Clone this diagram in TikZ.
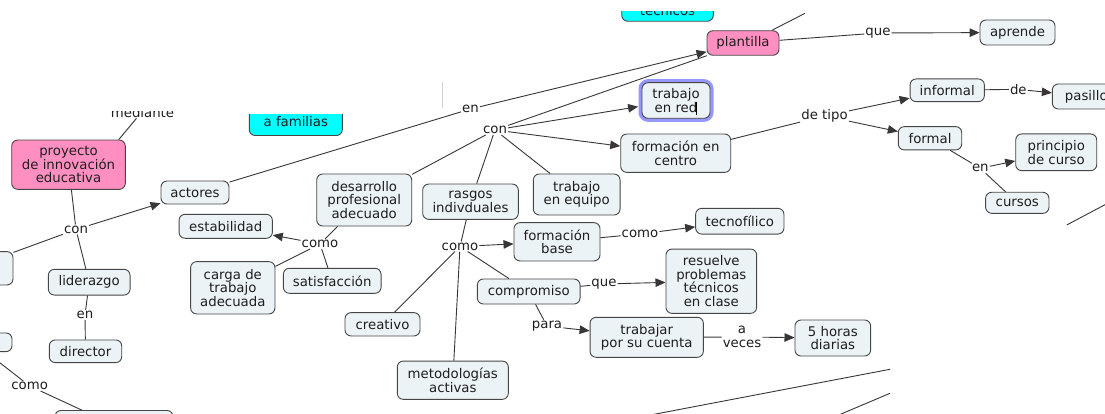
\documentclass[tikz,border=0pt]{standalone}
\usepackage{fontspec}
\newfontfamily\cmf{DejaVu Sans}
\usetikzlibrary{arrows.meta,calc}
\definecolor{cfill}{RGB}{236,243,246}
\definecolor{cbord}{RGB}{70,70,70}
\definecolor{cpink}{RGB}{255,143,192}
\definecolor{ccyan}{RGB}{0,255,255}
\definecolor{cline}{RGB}{55,55,55}
\definecolor{ctext}{RGB}{30,30,30}
\definecolor{cglow}{RGB}{150,150,255}
\tikzset{
  cfont/.style={font=\cmf\fontsize{13.3}{13.6}\selectfont, text=ctext},
  concept/.style={cfont, draw=cbord, fill=cfill, rounded corners=6pt, line width=0.9pt, align=center, inner sep=0pt},
  pinkc/.style={concept, fill=cpink},
  cyanc/.style={concept, fill=ccyan},
  lp/.style={cfont, inner sep=1pt, align=center},
  conn/.style={draw=cline, line width=0.9pt},
  arr/.style={conn, -{Triangle[length=10pt,width=8.5pt]}},
}
\begin{document}
\begin{tikzpicture}[x=1pt,y=-1pt]
\fill[white] (0,0) rectangle (1105,414);
\useasboundingbox (0,0) rectangle (1105,414);

% clipped partial elements
\begin{scope}
  \clip (600,12) rectangle (730,30);
  \node[cyanc, anchor=south, minimum width=91.6pt, text height=27pt, text depth=3pt, inner ysep=3pt] (tec) at (667.5,21.7) {técnicos};
\end{scope}
\begin{scope}
  \clip (240,114.8) rectangle (350,140);
  \node[cyanc, anchor=south, minimum width=93pt, text height=22.1pt, text depth=3.5pt, inner ysep=5.2pt] (fam) at (295.8,136) {a familias};
\end{scope}
\begin{scope}
  \clip (100,111.2) rectangle (200,125);
  \node[lp, anchor=base] (med) at (142.5,117.3) {mediante};
\end{scope}

% concepts
\node[pinkc, minimum width=72pt, minimum height=24.5pt] (plant) at (743,43) {plantilla};
\node[concept, minimum width=75pt, minimum height=25pt] (apr) at (1017.5,32.5) {aprende};
\node[concept, minimum width=68pt, minimum height=35.6pt, preaction={draw=cglow, line width=7pt, rounded corners=6pt}] (red) at (676,100.5) {trabajo\\en red};
\node[concept, minimum width=110pt, minimum height=38.3pt] (fcen) at (675.7,153.2) {formación en\\centro};
\node[concept, minimum width=74.3pt, minimum height=22.7pt] (inf) at (947.2,90.3) {informal};
\node[concept, minimum width=68pt, minimum height=25pt] (pas) at (1086.3,96.5) {pasillo};
\node[concept, minimum width=63.4pt, minimum height=23.3pt] (form) at (930,138.3) {formal};
\node[concept, minimum width=81pt, minimum height=36.7pt] (prin) at (1056.2,152.3) {principio\\de curso};
\node[concept, minimum width=63.3pt, minimum height=21pt] (cur) at (1017.3,202.8) {cursos};
\node[pinkc, minimum width=113.6pt, minimum height=49.3pt] (proy) at (68.5,164.7) {proyecto\\de innovación\\educativa};
\node[concept, minimum width=68pt, minimum height=23pt] (act) at (195,192.5) {actores};
\node[concept, minimum width=95pt, minimum height=52pt] (des) at (364.2,200) {desarrollo\\profesional\\adecuado};
\node[concept, minimum width=95.6pt, minimum height=35.3pt] (ras) at (470.5,201.7) {rasgos\\indivduales};
\node[concept, minimum width=86.7pt, minimum height=41pt] (teq) at (576.7,194.5) {trabajo\\en equipo};
\node[concept, minimum width=93.3pt, minimum height=24pt] (est) at (225.7,226.3) {estabilidad};
\node[concept, minimum width=84.3pt, minimum height=52.3pt] (carga) at (232.8,287.8) {carga de\\trabajo\\adecuada};
\node[concept, minimum width=97.7pt, minimum height=25pt] (sat) at (332.2,280.8) {satisfacción};
\node[concept, minimum width=81.7pt, minimum height=25.7pt] (lid) at (89.2,282.2) {liderazgo};
\node[concept, minimum width=72.4pt, minimum height=22.7pt] (dir) at (85.5,351.3) {director};
\node[concept, minimum width=118pt, minimum height=29pt] (bl) at (114,425) {};
\node[concept, minimum width=86pt, minimum height=33.3pt] (lpa) at (-30,268.3) {};
\node[concept, minimum width=84pt, minimum height=18.7pt] (lpb) at (-30,342.3) {};
\node[concept, minimum width=75pt, minimum height=23.3pt] (cre) at (382.5,324.3) {creativo};
\node[concept, minimum width=111pt, minimum height=38.3pt] (met) at (452.8,380.2) {metodologías\\activas};
\node[concept, minimum width=86pt, minimum height=38.3pt] (fbase) at (557,241.8) {formación\\base};
\node[concept, minimum width=102.7pt, minimum height=25pt] (comp) at (528.7,291.5) {compromiso};
\node[concept, minimum width=88.3pt, minimum height=25.7pt] (tecno) at (739.8,221.2) {tecnofílico};
\node[concept, minimum width=90.7pt, minimum height=64.3pt] (res) at (711.3,281.2) {resuelve\\problemas\\técnicos\\en clase};
\node[concept, minimum width=113.3pt, minimum height=40pt] (trab) at (646.7,337.3) {trabajar\\por su cuenta};
\node[concept, minimum width=75.7pt, minimum height=36pt] (horas) at (832.8,338) {5 horas\\diarias};

% text cursor and canvas mark
\draw[black, line width=0.6pt] ($(red.center)+(20.7,1.2)$) -- ++(0,13.3);
\draw[gray!35, line width=0.6pt] (442.7,81.7) -- (442.7,108.3);

% linking phrases
\node[lp] (lque1) at (878,33) {que};
\node[lp] (len1) at (470.5,109) {en};
\node[lp] (lcon1) at (495,130) {con};
\node[lp] (ltipo) at (824.5,116) {de tipo};
\node[lp] (lde) at (1018.3,89.3) {de};
\node[lp] (len2) at (980.3,168.3) {en};
\node[lp] (lcomo1) at (320,244) {como};
\node[lp] (lcon2) at (76,229.5) {con};
\node[lp] (len3) at (85,315) {en};
\node[lp] (lcomo2) at (29.7,386) {como};
\node[lp] (lcomo3) at (460,246.5) {como};
\node[lp] (lcomo4) at (640,234) {como};
\node[lp] (lque2) at (604,284) {que};
\node[lp] (lpara) at (547,326) {para};
\node[lp] (lav) at (742,337) {a\\veces};

% free ends
\coordinate (topfree) at (805,13.3);
\coordinate (lfree) at (-5,359);
\coordinate (rf1) at (1066.7,225);
\coordinate (rf2) at (1112,201);
\coordinate (bf1) at (890,369.3);
\coordinate (bf2) at (640,417);
\coordinate (bf3) at (890,393.3);
\coordinate (bf4) at (834,417);

% connectors
\draw[conn] (plant) -- (lque1);
\draw[arr] (lque1) -- (apr);
\draw[conn] (act) -- (len1);
\draw[arr] (len1) -- (plant);
\draw[conn] (plant) -- (lcon1);
\draw[arr, shorten >=3.5pt] (lcon1) -- (red);
\draw[arr] (lcon1) -- (fcen);
\draw[conn] (lcon1) -- (des);
\draw[conn] (lcon1) -- (ras);
\draw[conn] (lcon1) -- (teq);
\draw[conn] (fcen) -- (ltipo);
\draw[arr] (ltipo) -- (inf);
\draw[arr] (ltipo) -- (form);
\draw[conn] (inf) -- (lde);
\draw[arr] (lde) -- (pas);
\draw[conn] (form) -- (len2);
\draw[arr] (len2) -- (prin);
\draw[conn] (len2) -- (cur);
\draw[conn] (proy) -- (lcon2);
\draw[arr] (lcon2) -- (act);
\draw[conn] (lcon2) -- (lid);
\draw[conn] (lcon2) -- (lpa);
\draw[conn] (lid) -- (len3);
\draw[conn] (len3) -- (dir);
\draw[conn] (des) -- (lcomo1);
\draw[arr] (lcomo1) -- (est);
\draw[conn] (lcomo1) -- (carga);
\draw[conn] (lcomo1) -- (sat);
\draw[conn] (ras) -- (lcomo3);
\draw[arr] (lcomo3) -- (fbase);
\draw[conn] (lcomo3) -- (comp);
\draw[conn] (lcomo3) -- (cre);
\draw[conn] (lcomo3) -- (met);
\draw[conn] (fbase) -- (lcomo4);
\draw[arr] (lcomo4) -- (tecno);
\draw[conn] (comp) -- (lque2);
\draw[arr] (lque2) -- (res);
\draw[conn] (comp) -- (lpara);
\draw[arr] (lpara) -- (trab);
\draw[conn] (trab) -- (lav);
\draw[arr] (lav) -- (horas);
\draw[conn] (lfree) -- (lcomo2);
\draw[conn] (lcomo2) -- (bl);
\draw[conn] ($(med.base)+(-6,1)$) -- ($(proy.north east)+(-7,0)$);
\draw[conn] ($(plant.north east)+(-7.5,0)$) -- (topfree);
\draw[conn] (rf1) -- (rf2);
\draw[conn] (bf1) -- (bf2);
\draw[conn] (bf3) -- (bf4);
\end{tikzpicture}
\end{document}
